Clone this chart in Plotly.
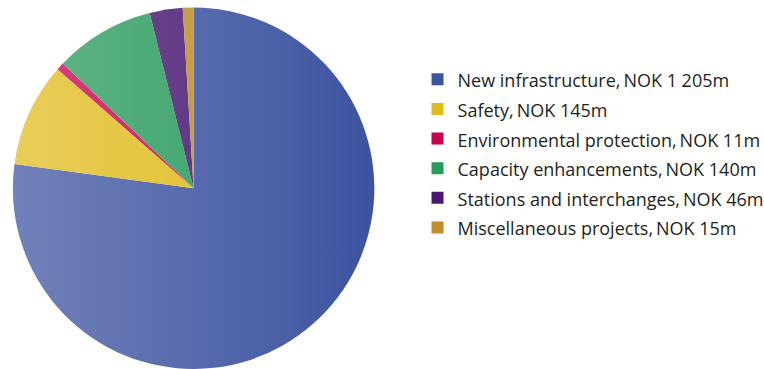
import base64
import plotly.graph_objects as go

# Investment by category (NOK million)
categories = [
    "New infrastructure",
    "Safety",
    "Environmental protection",
    "Capacity enhancements",
    "Stations and interchanges",
    "Miscellaneous projects",
]
amounts = [1205, 145, 11, 140, 46, 15]
amount_labels = ["NOK 1 205m", "NOK 145m", "NOK 11m", "NOK 140m", "NOK 46m", "NOK 15m"]
colors = ["#3d53a0", "#e0bb1c", "#c8004f", "#2a9b5d", "#4a1a72", "#bd8f2e"]

legend_text = [
    f'<span style="font-size:18px">{c},&#8201;{a}</span>'
    for c, a in zip(categories, amount_labels)
]

fig = go.Figure(
    go.Pie(
        labels=legend_text,
        values=amounts,
        sort=False,
        direction="clockwise",
        rotation=0,
        marker=dict(colors=colors, line=dict(width=0)),
        textinfo="none",
        hoverinfo="label+value",
        domain=dict(x=[0.0153, 0.4915], y=[0.0, 0.9797]),
    )
)

# soft horizontal sheen over the pie: lighter on the left, fading out to the right
svg = (
    '<svg xmlns="http://www.w3.org/2000/svg" width="100" height="100" '
    'viewBox="0 0 100 100" preserveAspectRatio="none">'
    '<defs><linearGradient id="g" x1="0" y1="0" x2="1" y2="0">'
    '<stop offset="0" stop-color="#ffffff" stop-opacity="0.27"/>'
    '<stop offset="1" stop-color="#ffffff" stop-opacity="0"/>'
    '</linearGradient></defs>'
    '<rect x="0" y="0" width="100" height="100" fill="url(#g)"/></svg>'
)
sheen = "data:image/svg+xml;base64," + base64.b64encode(svg.encode()).decode()

fig.update_layout(
    width=764,
    height=369,
    margin=dict(l=0, r=0, t=0, b=0, autoexpand=False),
    paper_bgcolor="white",
    plot_bgcolor="white",
    showlegend=True,
    legend=dict(
        x=0.5465,
        y=0.839,
        xanchor="left",
        yanchor="top",
        font=dict(family="Open Sans, sans-serif", size=20.5, color="#231f20"),
        bgcolor="rgba(0,0,0,0)",
        traceorder="normal",
    ),
    images=[
        dict(
            source=sheen,
            xref="paper",
            yref="paper",
            x=11 / 764,
            y=1.0,
            sizex=(376 - 11) / 764,
            sizey=1.0,
            xanchor="left",
            yanchor="top",
            sizing="stretch",
            layer="above",
        )
    ],
)

fig.write_html("out.html")
